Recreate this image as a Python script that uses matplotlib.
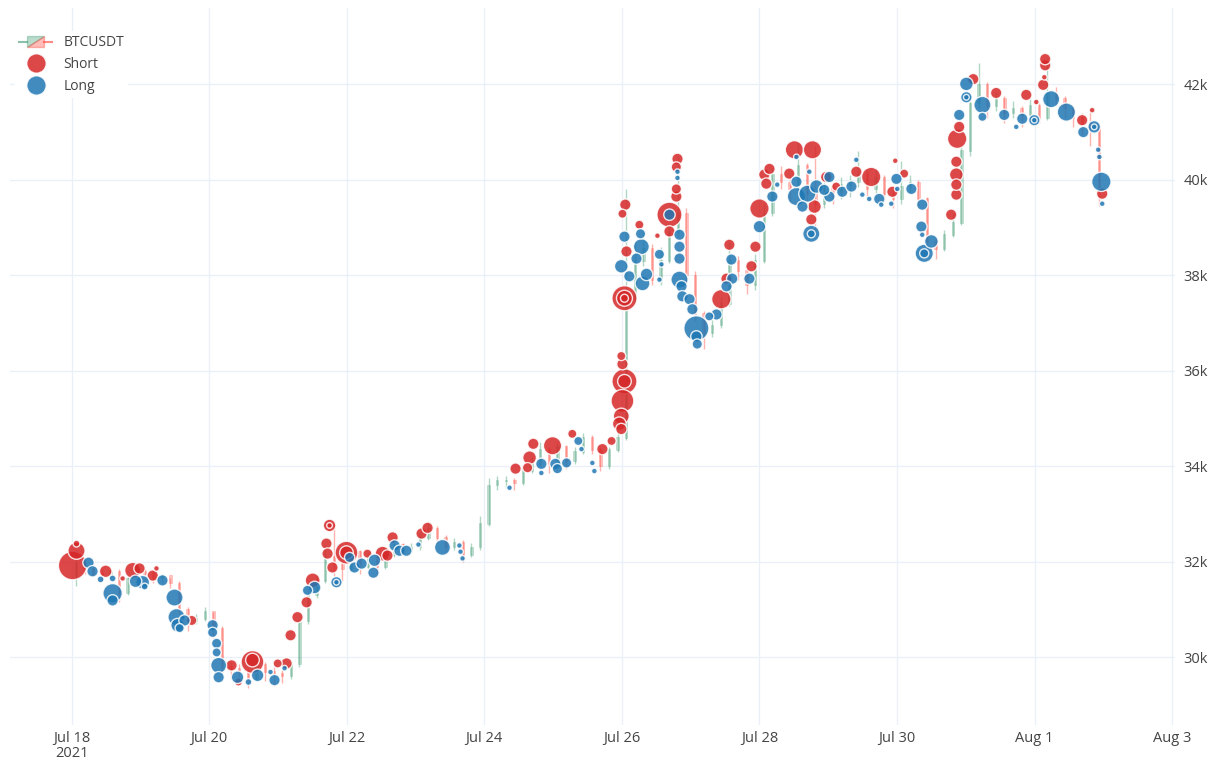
import matplotlib
matplotlib.use('Agg')
import matplotlib.pyplot as plt
import matplotlib.dates as mdates
from matplotlib.legend_handler import HandlerBase
from matplotlib.patches import Polygon
from matplotlib.lines import Line2D
import numpy as np
from datetime import datetime, timedelta

plt.rcParams['font.family'] = ['Open Sans', 'DejaVu Sans']

# 3-hour candles starting Jul 18 2021 00:00
start = datetime(2021, 7, 18)
first_open = 31700
closes = [31950, 31850, 31750, 31700, 31800, 31350, 31650, 31800, 31750, 31650,
          31700, 31550, 31000, 30750, 30800, 30950, 30600, 29800, 29750, 29700,
          29550, 29850, 29700, 29650, 29600, 29850, 30750, 31300, 31600, 32100,
          31950, 31850, 32200, 31900, 32100, 31900, 32150, 32350, 32250, 32300,
          32500, 32700, 32500, 32300, 32400, 32150, 32300, 32800, 33600, 33700,
          33700, 33650, 33900, 34050, 34350, 34050, 34400, 34100, 34300, 34600,
          34350, 34000, 34350, 34600, 37500, 38300, 38550, 37900, 38300, 38900,
          39300, 38000, 37200, 36800, 36950, 37400, 38300, 38100, 37800, 38300,
          39300, 40100, 39950, 39800, 40300, 39700, 39500, 39850, 39750, 39900,
          39950, 40100, 39800, 40050, 39700, 39600, 39850, 39950, 39600, 38700,
          38550, 38850, 39100, 40600, 41600, 42000, 41550, 41700, 41400, 41500,
          41350, 41550, 41300, 41800, 41700, 41500, 41300, 41200, 41100, 39800]
highs = [32250, 32050, 31950, 31850, 31850, 31850, 31700, 31900, 31850, 31800,
         31750, 31650, 31600, 31050, 30900, 31050, 30950, 30650, 29900, 29850,
         29750, 30000, 29900, 29800, 29750, 29950, 30800, 31400, 31750, 32350,
         32800, 32000, 32350, 32250, 32200, 32150, 32250, 32500, 32400, 32400,
         32600, 32850, 32750, 32550, 32500, 32450, 32400, 32950, 33750, 33800,
         33800, 33750, 34000, 34200, 34500, 34400, 34500, 34450, 34400, 34700,
         34650, 34400, 34400, 34750, 39800, 38700, 38900, 38650, 38600, 39050,
         40500, 39400, 38100, 37250, 37100, 37550, 38700, 38400, 38150, 38450,
         39500, 40250, 40300, 40050, 40800, 40350, 40700, 40000, 39950, 40050,
         40100, 40600, 40200, 40200, 40100, 39800, 40400, 40100, 40000, 39650,
         38800, 38950, 39300, 40700, 41750, 42450, 42050, 41850, 41750, 41650,
         41550, 41700, 41600, 42550, 41950, 41750, 41550, 41400, 41500, 41200]
lows = [31500, 31750, 31700, 31600, 31650, 31150, 31300, 31600, 31550, 31550,
        31550, 31450, 30900, 30550, 30700, 30750, 30400, 29650, 29550, 29450,
        29350, 29500, 29500, 29400, 29450, 29550, 29800, 30700, 31250, 31550,
        31700, 31600, 31800, 31750, 31850, 31750, 31850, 32100, 32150, 32200,
        32250, 32450, 32400, 32200, 32250, 32000, 32100, 32250, 32750, 33500,
        33550, 33500, 33600, 33850, 34000, 33850, 34000, 33950, 34050, 34250,
        34250, 33900, 33950, 34300, 34550, 37400, 38200, 37800, 37800, 38250,
        38800, 37800, 37050, 36450, 36700, 36900, 37350, 37900, 37600, 37700,
        38250, 39250, 39800, 39550, 39700, 39500, 38900, 39400, 39500, 39600,
        39650, 39850, 39650, 39700, 39550, 39400, 39500, 39750, 39450, 38500,
        38350, 38500, 38800, 39050, 40500, 41500, 41300, 41450, 41200, 41300,
        41100, 41300, 41200, 41250, 41550, 41300, 41100, 40950, 40700, 39450]

# trades: hours since Jul 18 00:00, price, quantity
short_hours = [0.35, 1.7, 1.7, 11.9, 17.8, 21.3, 23.7, 28.3, 29.6, 41.9,
               55.8, 58.2, 63.1, 63.1, 71.9, 75.0, 76.4, 78.8, 82.0, 84.1,
               90.0, 90.0, 88.9, 89.3, 91.0, 95.9, 95.9, 103.2, 108.5, 110.2,
               112.0, 122.1, 124.2, 154.9, 159.1, 159.8, 161.1, 167.8, 174.7, 185.2,
               188.4, 191.1, 191.8, 191.8, 192.2, 192.9, 192.9, 192.2, 191.8, 192.9,
               192.9, 192.9, 193.2, 192.2, 198.1, 193.6, 204.4, 208.6, 211.4, 211.0,
               211.0, 211.0, 208.6, 226.7, 228.5, 229.5, 237.2, 238.6, 240.0, 241.7,
               243.5, 242.4, 252.2, 258.5, 250.4, 259.2, 258.1, 263.3, 266.8, 273.8,
               279.0, 286.4, 287.4, 290.5, 306.9, 308.7, 308.7, 308.7, 308.7, 309.0,
               309.7, 314.6, 322.6, 333.1, 336.6, 339.0, 339.7, 339.7, 339.4, 352.6,
               356.1, 359.6]
short_price = [31920, 32230, 32380, 31800, 31650, 31820, 31860, 31710, 31860, 30770,
               29830, 29480, 29900, 29940, 29870, 29870, 30460, 30840, 31150, 31610,
               32760, 32760, 32380, 32170, 31880, 32190, 32190, 32170, 32170, 32130,
               32510, 32590, 32710, 33950, 33970, 34180, 34470, 34430, 34680, 34360,
               34530, 34890, 34780, 35050, 35370, 35780, 35780, 36140, 36310, 37520,
               37520, 37520, 39480, 39290, 39060, 38500, 38830, 39270, 40440, 40270,
               39810, 39650, 38920, 37500, 37930, 38640, 38190, 38600, 39400, 40110,
               40230, 39920, 40630, 40630, 40130, 39440, 39170, 40060, 39860, 40170,
               40060, 39750, 40400, 40130, 39270, 39690, 39900, 40110, 40380, 40860,
               41110, 42110, 41820, 41780, 41630, 41990, 42400, 42530, 42150, 41250,
               41460, 39710]
short_qty = [25, 15, 6, 11, 5, 14, 10, 10, 5, 9,
             10, 7, 20, 12, 8, 10, 10, 10, 10, 13,
             11, 5, 10, 10, 10, 20, 12, 8, 13, 10,
             10, 10, 10, 10, 9, 12, 10, 16, 8, 10,
             8, 12, 10, 14, 20, 22, 12, 10, 8, 22,
             14, 7, 10, 8, 8, 10, 5, 22, 10, 9,
             9, 10, 10, 17, 10, 10, 10, 10, 17, 10,
             10, 10, 16, 16, 10, 12, 10, 10, 8, 10,
             17, 10, 5, 8, 10, 10, 10, 12, 10, 17,
             10, 10, 10, 10, 5, 10, 10, 10, 5, 10,
             5, 10]

long_hours = [5.9, 7.3, 10.1, 14.3, 14.3, 14.3, 22.3, 24.8, 25.5, 31.7,
              35.9, 36.6, 37.0, 39.4, 37.7, 49.2, 49.2, 50.6, 50.6, 51.3,
              51.3, 57.9, 61.7, 64.9, 69.4, 70.8, 74.3, 82.3, 84.8, 92.4,
              92.4, 97.0, 98.7, 101.2, 105.7, 105.3, 112.7, 114.4, 116.8, 121.0,
              129.4, 135.3, 135.7, 136.4, 152.8, 163.9, 163.9, 168.8, 169.5, 172.7,
              176.8, 177.9, 181.7, 182.4, 192.9, 198.5, 191.8, 194.6, 198.8, 197.1,
              200.6, 199.2, 205.1, 205.8, 205.1, 208.6, 211.4, 211.4, 212.1, 212.1,
              212.1, 212.1, 212.8, 213.1, 215.6, 216.6, 218.0, 218.0, 218.3, 222.5,
              225.0, 230.2, 230.5, 228.5, 236.5, 240.0, 244.5, 246.2, 252.9, 252.9,
              252.9, 255.0, 256.7, 259.9, 257.4, 258.1, 258.1, 264.4, 264.4, 262.6,
              268.9, 272.1, 273.8, 275.9, 278.3, 281.8, 282.5, 286.0, 287.8, 288.1,
              293.0, 296.8, 296.5, 296.8, 300.0, 297.5, 297.5, 309.7, 312.2, 312.2,
              312.2, 317.8, 317.8, 325.4, 329.6, 331.7, 335.9, 335.9, 341.8, 347.1,
              353.0, 356.8, 356.8, 358.2, 358.6, 359.3, 359.6]
long_price = [31980, 31800, 31630, 31650, 31340, 31190, 31590, 31570, 31480, 31610,
              31250, 30840, 30670, 30770, 30610, 30670, 30520, 30290, 30100, 29830,
              29580, 29580, 29480, 29620, 29690, 29520, 29770, 31400, 31460, 31570,
              31570, 32090, 31880, 31960, 32030, 31770, 32340, 32230, 32230, 32360,
              32300, 32340, 32210, 32070, 33550, 34050, 33860, 34050, 33950, 34070,
              34530, 34360, 34070, 33900, 38810, 38870, 38190, 37980, 38600, 38350,
              38020, 37830, 38440, 38230, 37910, 39270, 40170, 40040, 38850, 38600,
              38350, 37910, 37770, 37560, 37500, 37290, 36890, 36720, 36560, 37140,
              37180, 38330, 37930, 37770, 37930, 39020, 39650, 39900, 40480, 39960,
              39650, 39440, 39710, 39860, 40170, 38870, 38870, 40060, 39650, 39790,
              39750, 39860, 40420, 39690, 39600, 39600, 39480, 39500, 40020, 39810,
              39810, 39480, 39020, 38850, 38710, 38460, 38460, 41360, 41730, 41730,
              42010, 41570, 41320, 41360, 41110, 41280, 41250, 41250, 41690, 41420,
              41000, 41110, 41110, 40630, 40480, 39960, 39500]
long_qty = [10, 10, 6, 6, 17, 10, 11, 12, 6, 10,
            15, 15, 12, 10, 8, 10, 9, 9, 8, 14,
            10, 11, 6, 11, 5, 10, 5, 9, 11, 10,
            5, 9, 10, 10, 11, 10, 10, 10, 10, 5,
            14, 5, 5, 5, 5, 10, 5, 10, 9, 9,
            8, 5, 5, 5, 10, 9, 12, 10, 14, 10,
            11, 13, 9, 5, 5, 10, 5, 5, 10, 10,
            10, 15, 10, 10, 10, 10, 22, 10, 9, 8,
            10, 10, 10, 10, 10, 11, 10, 5, 5, 10,
            16, 10, 15, 12, 5, 15, 7, 10, 10, 10,
            10, 10, 5, 5, 5, 10, 5, 5, 10, 5,
            10, 10, 10, 5, 12, 16, 8, 10, 10, 5,
            12, 15, 8, 10, 5, 10, 10, 5, 15, 16,
            10, 11, 5, 5, 5, 17, 5]

tick_dates = [datetime(2021, 7, 18) + timedelta(days=2 * k) for k in range(9)]
tick_labels = ['Jul 18\n2021', 'Jul 20', 'Jul 22', 'Jul 24', 'Jul 26',
               'Jul 28', 'Jul 30', 'Aug 1', 'Aug 3']
price_ticks = [30000, 32000, 34000, 36000, 38000, 40000, 42000]
price_labels = ['30k', '32k', '34k', '36k', '38k', '40k', '42k']

inc_color = '#3D9970'
dec_color = '#FF4136'
short_color = '#d62728'
long_color = '#1f77b4'
text_color = '#444444'
grid_color = '#ebf0f8'


class CandleHandler(HandlerBase):
    def create_artists(self, legend, orig_handle, xdescent, ydescent,
                       width, height, fontsize, trans):
        x0, y0 = -xdescent, -ydescent
        bx0, bx1 = x0 + width * 0.25, x0 + width * 0.75
        by0, by1 = y0 - height * 0.1, y0 + height * 1.0
        ym = (by0 + by1) / 2
        green = Polygon([[bx0, by0], [bx0, by1], [bx1, by1]], closed=True,
                        facecolor=inc_color, alpha=0.35, edgecolor=inc_color,
                        linewidth=1, transform=trans)
        red = Polygon([[bx0, by0], [bx1, by0], [bx1, by1]], closed=True,
                      facecolor=dec_color, alpha=0.35, edgecolor=dec_color,
                      linewidth=1, transform=trans)
        wl = Line2D([x0, bx0], [ym, ym], color=inc_color, alpha=0.6, lw=1.5, transform=trans)
        wr = Line2D([bx1, x0 + width], [ym, ym], color=dec_color, alpha=0.6, lw=1.5, transform=trans)
        return [green, red, wl, wr]


fig = plt.figure(figsize=(12.1, 7.65), dpi=100)
ax = fig.add_axes([10 / 1210, 1 - 725 / 765, 1165 / 1210, 717 / 765])

# candles
closes = np.array(closes, dtype=float)
opens = np.concatenate([[first_open], closes[:-1]])
highs = np.array(highs, dtype=float)
lows = np.array(lows, dtype=float)
ct = mdates.date2num([start + timedelta(hours=3 * i + 1.5) for i in range(len(closes))])
up = closes >= opens
for mask, col in [(up, inc_color), (~up, dec_color)]:
    ax.vlines(ct[mask], lows[mask], highs[mask], color=col, alpha=0.4, linewidth=1.0, zorder=2)
    ax.bar(ct[mask], np.abs(closes[mask] - opens[mask]) + 15, bottom=np.minimum(opens, closes)[mask],
           width=0.035, color=col, alpha=0.3, edgecolor=col, linewidth=0.5, zorder=2)


def draw_trades(hours, price, qty, color):
    hours = np.array(hours)
    price = np.array(price)
    qty = np.array(qty, dtype=float)
    order = np.argsort(-qty, kind='stable')
    t = mdates.date2num([start + timedelta(hours=h) for h in hours[order]])
    ax.scatter(t, price[order], s=(qty[order] * 0.82) ** 2, color=color, alpha=0.85,
               edgecolors='white', linewidths=1.0, zorder=3)


draw_trades(short_hours, short_price, short_qty, short_color)
draw_trades(long_hours, long_price, long_qty, long_color)

ax.set_xlim(mdates.date2num(datetime(2021, 7, 17, 2, 30)), mdates.date2num(datetime(2021, 8, 3, 1, 0)))
ax.set_ylim(28580, 43600)
ax.set_xticks(mdates.date2num(tick_dates))
ax.set_xticklabels(tick_labels, linespacing=1.05)
ax.set_yticks(price_ticks)
ax.set_yticklabels(price_labels)
ax.yaxis.tick_right()
ax.tick_params(length=0, labelsize=10.5, labelcolor=text_color)
ax.tick_params(axis='x', pad=4)
ax.tick_params(axis='y', pad=6)
ax.grid(True, color=grid_color, linewidth=1)
ax.set_axisbelow(True)
for s in ax.spines.values():
    s.set_visible(False)

handles = [object(),
           Line2D([], [], linestyle='none', marker='o', markersize=14, color=short_color,
                  alpha=0.85, markeredgecolor='white'),
           Line2D([], [], linestyle='none', marker='o', markersize=14, color=long_color,
                  alpha=0.85, markeredgecolor='white')]
leg = ax.legend(handles, ['BTCUSDT', 'Short', 'Long'], handler_map={object: CandleHandler()},
                loc='upper left', bbox_to_anchor=(8 / 1210, 1 - 24 / 765),
                bbox_transform=fig.transFigure, frameon=True, fancybox=False,
                facecolor='white', edgecolor='none', framealpha=1, fontsize=10,
                handlelength=2.4, handletextpad=0.8, labelspacing=0.5, borderpad=0.3)
for txt in leg.get_texts():
    txt.set_color(text_color)

fig.savefig('out.png', dpi=100, facecolor='white')
